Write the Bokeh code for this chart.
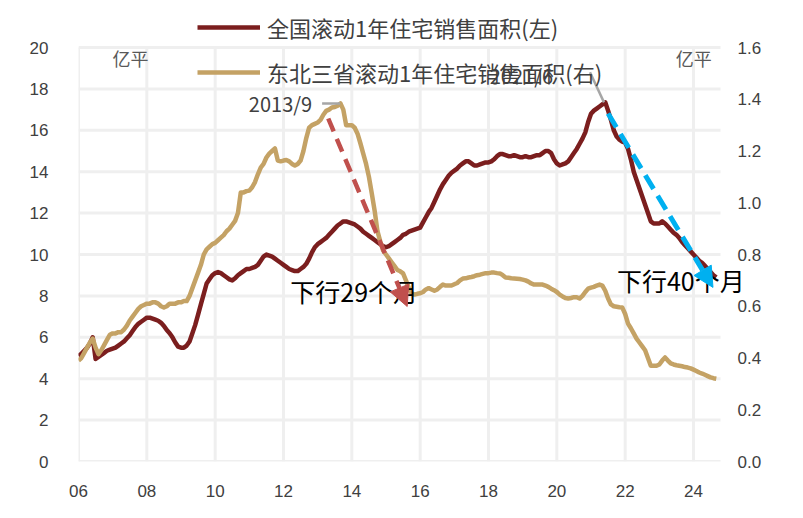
from bokeh.plotting import figure
from bokeh.models import (Range1d, LinearAxis, FixedTicker, Legend, LegendItem, Label,
                          Arrow, NormalHead, NumeralTickFormatter)
from bokeh.embed import file_html
from bokeh.resources import INLINE

# ---------------- data (monthly, starting 2006/1) ----------------
start_year = 2006
national = [  # 全国滚动1年住宅销售面积, 亿平 (left axis)
    5.1, 5.2, 5.35, 5.5, 5.7, 6.0, 4.95, 5.05, 5.15, 5.25, 5.35, 5.4,          # 2006
    5.45, 5.5, 5.6, 5.7, 5.8, 5.95, 6.1, 6.3, 6.5, 6.65, 6.75, 6.85,           # 2007
    6.95, 6.95, 6.9, 6.85, 6.8, 6.7, 6.55, 6.35, 6.2, 6.0, 5.75, 5.55,         # 2008
    5.5, 5.5, 5.6, 5.8, 6.2, 6.6, 7.1, 7.6, 8.1, 8.6, 8.8, 9.0,                # 2009
    9.1, 9.15, 9.1, 9.0, 8.9, 8.8, 8.75, 8.85, 9.0, 9.1, 9.2, 9.3,             # 2010
    9.3, 9.35, 9.4, 9.5, 9.7, 9.9, 10.0, 9.95, 9.9, 9.8, 9.7, 9.6,             # 2011
    9.5, 9.4, 9.3, 9.25, 9.2, 9.2, 9.3, 9.4, 9.55, 9.8, 10.1, 10.35,           # 2012
    10.5, 10.6, 10.7, 10.8, 10.95, 11.1, 11.25, 11.4, 11.5, 11.6, 11.6, 11.55, # 2013
    11.5, 11.45, 11.35, 11.25, 11.1, 11.0, 10.9, 10.8, 10.7, 10.6, 10.5, 10.4, # 2014
    10.35, 10.4, 10.5, 10.6, 10.7, 10.8, 10.95, 11.0, 11.1, 11.15, 11.2, 11.25,# 2015
    11.3, 11.55, 11.8, 12.05, 12.25, 12.55, 12.85, 13.15, 13.4, 13.6, 13.8, 13.95,  # 2016
    14.05, 14.15, 14.3, 14.4, 14.5, 14.5, 14.4, 14.3, 14.3, 14.35, 14.4, 14.45,     # 2017
    14.45, 14.5, 14.6, 14.75, 14.85, 14.85, 14.8, 14.75, 14.75, 14.8, 14.75, 14.7,  # 2018
    14.7, 14.75, 14.7, 14.7, 14.75, 14.8, 14.8, 14.9, 15.0, 15.0, 14.9, 14.6,       # 2019
    14.4, 14.3, 14.35, 14.4, 14.5, 14.7, 14.9, 15.1, 15.35, 15.6, 15.9, 16.4,       # 2020
    16.8, 16.95, 17.05, 17.15, 17.25, 17.35, 16.95, 16.5, 16.0, 15.7, 15.55, 15.45, # 2021
    15.4, 15.1, 14.6, 14.0, 13.6, 13.2, 12.8, 12.4, 12.0, 11.6, 11.5, 11.5,         # 2022
    11.5, 11.6, 11.5, 11.35, 11.2, 11.05, 10.95, 10.8, 10.6, 10.45, 10.3, 10.15,    # 2023
    10.0, 9.85, 9.7, 9.6, 9.45, 9.3, 9.15, 9.0, 8.9,                                # 2024
]
northeast = [  # 东北三省滚动1年住宅销售面积, 亿平 (right axis)
    0.39, 0.40, 0.42, 0.44, 0.46, 0.475, 0.44, 0.415, 0.43, 0.45, 0.47, 0.49,       # 2006
    0.495, 0.495, 0.50, 0.50, 0.51, 0.525, 0.545, 0.56, 0.575, 0.59, 0.60, 0.605,   # 2007
    0.61, 0.61, 0.615, 0.615, 0.61, 0.60, 0.595, 0.60, 0.61, 0.61, 0.61, 0.615,     # 2008
    0.615, 0.62, 0.62, 0.64, 0.67, 0.70, 0.73, 0.76, 0.80, 0.82, 0.83, 0.84,        # 2009
    0.845, 0.855, 0.865, 0.875, 0.89, 0.90, 0.915, 0.93, 0.96, 1.04, 1.04, 1.045,   # 2010
    1.047, 1.06, 1.08, 1.11, 1.136, 1.15, 1.175, 1.19, 1.20, 1.21, 1.163, 1.16,     # 2011
    1.163, 1.165, 1.16, 1.15, 1.144, 1.15, 1.163, 1.20, 1.25, 1.29, 1.30, 1.305,    # 2012
    1.31, 1.32, 1.34, 1.355, 1.36, 1.368, 1.37, 1.375, 1.384, 1.36, 1.30, 1.30,     # 2013
    1.30, 1.29, 1.267, 1.23, 1.19, 1.15, 1.10, 1.036, 0.97, 0.89, 0.85, 0.815,      # 2014
    0.80, 0.785, 0.77, 0.755, 0.74, 0.735, 0.727, 0.70, 0.67, 0.65, 0.645, 0.648,   # 2015
    0.65, 0.655, 0.665, 0.67, 0.665, 0.66, 0.665, 0.675, 0.684, 0.68, 0.68, 0.68,   # 2016
    0.685, 0.69, 0.70, 0.707, 0.708, 0.711, 0.713, 0.716, 0.72, 0.722, 0.725, 0.728,# 2017
    0.728, 0.73, 0.73, 0.728, 0.727, 0.72, 0.711, 0.71, 0.708, 0.707, 0.706, 0.705, # 2018
    0.703, 0.70, 0.695, 0.688, 0.684, 0.684, 0.684, 0.684, 0.68, 0.675, 0.668, 0.662,  # 2019
    0.655, 0.645, 0.638, 0.632, 0.63, 0.632, 0.635, 0.635, 0.63, 0.64, 0.655, 0.668,   # 2020
    0.672, 0.675, 0.68, 0.684, 0.68, 0.66, 0.63, 0.607, 0.60, 0.598, 0.596, 0.595,     # 2021
    0.57, 0.533, 0.515, 0.495, 0.475, 0.46, 0.445, 0.43, 0.40, 0.37, 0.37, 0.37,       # 2022
    0.375, 0.39, 0.402, 0.39, 0.379, 0.375, 0.372, 0.37, 0.368, 0.365, 0.363, 0.36,    # 2023
    0.355, 0.35, 0.344, 0.34, 0.335, 0.33, 0.325, 0.322, 0.32,                         # 2024
]
year_ticks = [2006, 2008, 2010, 2012, 2014, 2016, 2018, 2020, 2022, 2024]
year_labels = ["06", "08", "10", "12", "14", "16", "18", "20", "22", "24"]
left_ticks = [0, 2, 4, 6, 8, 10, 12, 14, 16, 18, 20]
right_ticks = [0.0, 0.2, 0.4, 0.6, 0.8, 1.0, 1.2, 1.4, 1.6]
label_nat = "全国滚动1年住宅销售面积(左)"
label_ne = "东北三省滚动1年住宅销售面积(右)"

dates_nat = [start_year + i / 12 for i in range(len(national))]
dates_ne = [start_year + i / 12 for i in range(len(northeast))]

# ---------------- layout (pixels) ----------------
W, H = 803, 518
CHART_L, CHART_R = 78, 720      # chart area (gridlines)
CHART_T, CHART_B = 47, 461
FRAME_R, FRAME_T = 745, 10      # drawing frame is a bit larger, so texts are not clipped
X0, X1 = 2006, 2024.79          # x span of chart area
Y1_L, Y1_R = 20, 1.6            # top of the left / right scales

x_per_px = (X1 - X0) / (CHART_R - CHART_L)
x_view_end = X1 + (FRAME_R - CHART_R) * x_per_px
y_view_end = Y1_L + (CHART_T - FRAME_T) * Y1_L / (CHART_B - CHART_T)
yr_view_end = y_view_end * Y1_R / Y1_L

RED = "#7B1E1E"
TAN = "#C4A265"
ARROW_RED = "#C0504D"
ARROW_BLUE = "#00B0F0"
GRID = "#EFEFEF"
TXT = "#404040"
CJK = "Noto Sans CJK SC"
NUM = "Liberation Sans"

p = figure(width=W, height=H, output_backend="svg", toolbar_location=None,
           x_range=Range1d(X0, x_view_end), y_range=Range1d(0, y_view_end),
           min_border_left=CHART_L, min_border_right=W - FRAME_R,
           min_border_top=FRAME_T, min_border_bottom=H - CHART_B)
p.extra_y_ranges = {"right": Range1d(0, yr_view_end)}
p.outline_line_color = None
p.background_fill_color = "white"
p.border_fill_color = "white"
p.xgrid.visible = False
p.ygrid.visible = False

# gridlines limited to the chart area
p.segment(x0=[X0] * len(left_ticks), y0=left_ticks, x1=[X1] * len(left_ticks), y1=left_ticks,
          line_color=GRID, line_width=3)
p.segment(x0=year_ticks, y0=[0] * len(year_ticks), x1=year_ticks, y1=[Y1_L] * len(year_ticks),
          line_color=GRID, line_width=3)

r1 = p.line(dates_nat, national, line_color=RED, line_width=4.5, line_join="round")
r2 = p.line(dates_ne, northeast, line_color=TAN, line_width=4.5, line_join="round",
            y_range_name="right")

# axes
p.xaxis.ticker = FixedTicker(ticks=year_ticks)
p.xaxis.major_label_overrides = {t: l for t, l in zip(year_ticks, year_labels)}
p.xaxis.major_label_standoff = 17
p.yaxis.ticker = FixedTicker(ticks=left_ticks)
p.yaxis.major_label_standoff = 24

raxis = LinearAxis(y_range_name="right", ticker=FixedTicker(ticks=right_ticks),
                   formatter=NumeralTickFormatter(format="0.0"))
raxis.major_label_standoff = -14
p.add_layout(raxis, "right")

for ax in [p.xaxis[0], p.yaxis[0], raxis]:
    ax.axis_line_color = None
    ax.major_tick_line_color = None
    ax.minor_tick_line_color = None
    ax.major_label_text_font = NUM
    ax.major_label_text_font_size = "17px"
    ax.major_label_text_color = TXT

# legends
def make_legend(text, rend, loc):
    return Legend(items=[LegendItem(label=text, renderers=[rend])], location=loc,
                  padding=0, margin=0, border_line_color=None, background_fill_alpha=0,
                  glyph_width=63, glyph_height=20, label_height=20, label_standoff=7,
                  label_text_font=CJK, label_text_font_size="22px", label_text_color=TXT)

p.add_layout(make_legend(label_nat, r1, (119, 418)), "center")
p.add_layout(make_legend(label_ne, r2, (119, 373)), "center")

# unit labels
for xv in [2007.52, 2024.01]:
    p.add_layout(Label(x=xv, y=19.5, text="亿平", text_font=CJK, text_font_size="18px",
                       text_color="#595959", text_align="center", text_baseline="middle"))

# peak annotations
p.add_layout(Label(x=2012.84, y=17.3, text="2013/9", text_font=CJK, text_font_size="20px",
                   text_color=TXT, text_align="right", text_baseline="middle"))
p.add_layout(Label(x=2019.89, y=18.65, text="2021/6", text_font=CJK, text_font_size="20px",
                   text_color=TXT, text_align="right", text_baseline="middle"))
p.segment(x0=[2013.13, 2020.97], y0=[17.3, 18.8], x1=[2013.66, 2021.38], y1=[17.3, 17.35],
          line_color="#A6A6A6", line_width=2.5)

# down-trend texts
p.add_layout(Label(x=2012.2, y=8.26, text="下行29个月", text_font=CJK, text_font_size="25px",
                   text_color="black", text_align="left", text_baseline="middle"))
p.add_layout(Label(x=2021.76, y=8.79, text="下行40个月", text_font=CJK, text_font_size="25px",
                   text_color="black", text_align="left", text_baseline="middle"))

# arrows
p.add_layout(Arrow(x_start=2013.31, y_start=16.57, x_end=2015.62, y_end=7.49,
                   line_color=ARROW_RED, line_width=4.5, line_dash="14 8",
                   end=NormalHead(size=20, fill_color=ARROW_RED, line_color=ARROW_RED)))
p.add_layout(Arrow(x_start=2021.5, y_start=16.81, x_end=2024.57, y_end=8.41,
                   line_color=ARROW_BLUE, line_width=5, line_dash="16 8",
                   end=NormalHead(size=20, fill_color=ARROW_BLUE, line_color=ARROW_BLUE)))

open("out.html", "w").write(file_html(p, INLINE))
